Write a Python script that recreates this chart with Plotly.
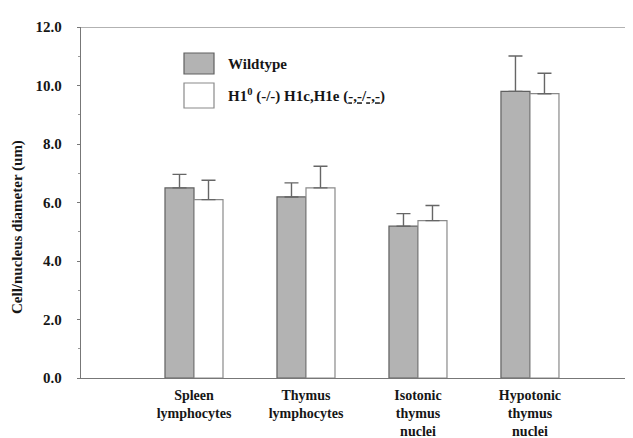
import plotly.graph_objects as go

categories = ["Spleen<br>lymphocytes", "Thymus<br>lymphocytes", "Isotonic<br>thymus<br>nuclei", "Hypotonic<br>thymus<br>nuclei"]
wildtype = [6.50, 6.19, 5.19, 9.80]
wildtype_err = [0.46, 0.48, 0.43, 1.21]
knockout = [6.10, 6.50, 5.38, 9.72]
knockout_err = [0.66, 0.74, 0.52, 0.70]
series_names = ["Wildtype", "H1<sup>0</sup> (-/-) H1c,H1e (<u>-,-</u>/<u>-,-</u>)"]
y_ticks = [0, 2, 4, 6, 8, 10, 12]

FONT = "Liberation Serif"
TXT = "#161616"
# page body has an 8px margin; figure is sized/placed to compensate
L, T, B = 73, 19, 60
W, H = 625, 430
PW, PH = W - L, H - T - B

def px_x(px):  # page x -> paper
    return (px - 8 - L) / PW

def px_y(py):  # page y -> paper
    return (H - B - (py - 8)) / PH

fig = go.Figure()
fig.add_trace(go.Bar(
    x=categories, y=wildtype, name=series_names[0],
    marker=dict(color="#b3b3b3", line=dict(color="#606060", width=1.2)),
    error_y=dict(type="data", array=wildtype_err, symmetric=False, arrayminus=[0]*4,
                 color="#666666", thickness=1.4, width=7),
    showlegend=False,
))
fig.add_trace(go.Bar(
    x=categories, y=knockout, name=series_names[1],
    marker=dict(color="#ffffff", line=dict(color="#8a8a8a", width=1.2)),
    error_y=dict(type="data", array=knockout_err, symmetric=False, arrayminus=[0]*4,
                 color="#666666", thickness=1.4, width=7),
    showlegend=False,
))

fig.update_layout(
    width=W, height=H,
    margin=dict(l=L, r=0, t=T, b=B, autoexpand=False),
    paper_bgcolor="white", plot_bgcolor="white",
    barmode="group", bargap=0.482, bargroupgap=0,
    font=dict(family=FONT, color=TXT),
)
fig.update_xaxes(
    type="category", range=[-1.009, 3.92],
    showline=True, linecolor="#777777", linewidth=1.3,
    ticks="", showgrid=False, automargin=False,
    ticklabelstandoff=4,
    tickfont=dict(family=FONT, size=14, color=TXT, weight="bold"),
)
fig.update_yaxes(
    range=[0, 12], tickvals=y_ticks, ticktext=[f"{v:.1f}" for v in y_ticks],
    showline=True, linecolor="#777777", linewidth=1.3,
    ticks="outside", ticklen=3, tickcolor="#777777",
    minor=dict(dtick=1, ticks="outside", ticklen=2, tickcolor="#999999"),
    showgrid=False, zeroline=False, automargin=False,
    ticklabelstandoff=12,
    tickfont=dict(family=FONT, size=15, color=TXT, weight="bold"),
)
# top frame line
fig.add_shape(type="line", xref="paper", yref="y", x0=0, x1=1.01, y0=12, y1=12,
              line=dict(color="#999999", width=1.3))
# axis title
fig.add_annotation(text="<b>Cell/nucleus diameter (um)</b>", textangle=-90,
                   xref="paper", yref="paper", x=px_x(17), y=px_y(227), xanchor="center", yanchor="middle",
                   showarrow=False, font=dict(family=FONT, size=15, color=TXT))
# legend
legend_colors = [("#b3b3b3", "#606060"), ("#ffffff", "#8a8a8a")]
legend_rows = [(53, 74), (83, 108)]
for (fill, edge), (ytop, ybot), name in zip(legend_colors, legend_rows, series_names):
    fig.add_shape(type="rect", xref="paper", yref="paper",
                  x0=px_x(184), x1=px_x(214), y0=px_y(ybot), y1=px_y(ytop),
                  fillcolor=fill, line=dict(color=edge, width=1.2))
    fig.add_annotation(text=f"<b>{name}</b>", xref="paper", yref="paper",
                       x=px_x(226), y=px_y((ytop + ybot) / 2), xanchor="left", yanchor="middle",
                       showarrow=False, font=dict(family=FONT, size=15, color=TXT))

fig.write_html("out.html")
